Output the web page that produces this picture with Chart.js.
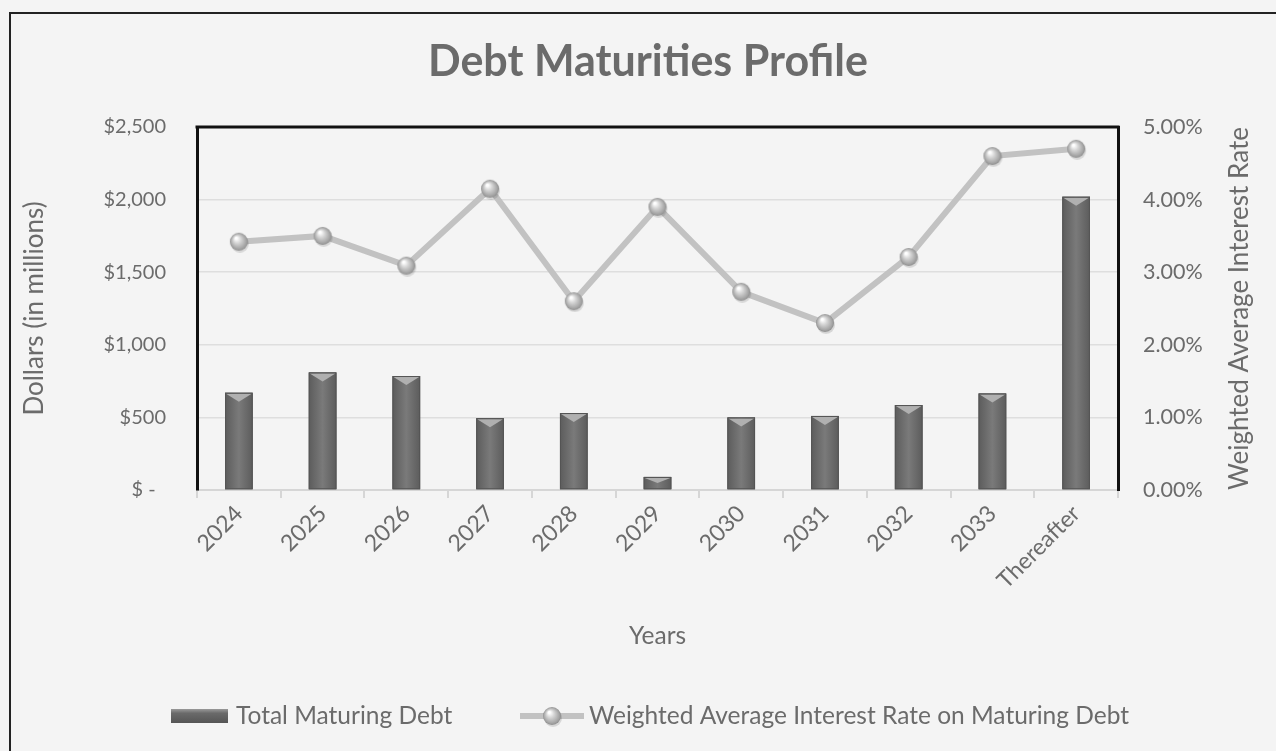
<!DOCTYPE html>
<html>
<head>
<meta charset="utf-8">
<script src="https://cdn.jsdelivr.net/npm/chart.js@4"></script>
<style>
  html, body { margin: 0; padding: 0; background: #f4f4f4; }
  #wrap { width: 1276px; height: 751px; position: relative; }
</style>
</head>
<body>
<div id="wrap"><canvas id="debtChart"></canvas></div>
<script>
// ── data ──
const years = ['2024', '2025', '2026', '2027', '2028', '2029', '2030', '2031', '2032', '2033', 'Thereafter'];
const maturingDebt = [670, 810, 785, 495, 530, 90, 500, 510, 585, 665, 2020];      // $ millions
const avgRate = [3.42, 3.50, 3.09, 4.15, 2.60, 3.90, 2.73, 2.30, 3.21, 4.60, 4.70]; // %

const TEXT = '#6b6b6b';
const FONT = 'Lato, "Open Sans", sans-serif';

// little shaded sphere used as the line marker
function makeSphere(r) {
    const c = document.createElement('canvas');
    c.width = c.height = r * 2 + 4;
    const g = c.getContext('2d');
    const cx = r + 2, cy = r + 2;
    g.fillStyle = 'rgba(0,0,0,0.12)';
    g.beginPath(); g.arc(cx + 1, cy + 2, r, 0, Math.PI * 2); g.fill();
    const grad = g.createRadialGradient(cx - r * 0.3, cy - r * 0.4, 1, cx, cy, r);
    grad.addColorStop(0, '#ffffff');
    grad.addColorStop(0.35, '#d6d6d6');
    grad.addColorStop(0.85, '#a3a3a3');
    grad.addColorStop(1, '#8c8c8c');
    g.fillStyle = grad;
    g.beginPath(); g.arc(cx, cy, r, 0, Math.PI * 2); g.fill();
    return c;
}
const sphere = makeSphere(9);

function barFill(ctx, x0, w) {
    const grad = ctx.createLinearGradient(x0, 0, x0 + w, 0);
    grad.addColorStop(0, '#5c5c5c');
    grad.addColorStop(0.5, '#7a7a7a');
    grad.addColorStop(1, '#5c5c5c');
    return grad;
}

// background, frame, title, right axis title, legend, bar bevels
const decorPlugin = {
    id: 'decor',
    beforeDraw(chart) {
        const { ctx, width, height } = chart;
        ctx.save();
        ctx.fillStyle = '#f4f4f4';
        ctx.fillRect(0, 0, width, height);
        ctx.strokeStyle = '#222';
        ctx.lineWidth = 2;
        ctx.beginPath();
        ctx.moveTo(10, height + 5); ctx.lineTo(10, 13); ctx.lineTo(width + 5, 13);
        ctx.stroke();
        ctx.restore();
    },
    afterDatasetDraw(chart, args) {
        if (args.index !== 0) return;
        const { ctx } = chart;
        ctx.save();
        args.meta.data.forEach(el => {
            const { x, y, base, width } = el.getProps(['x', 'y', 'base', 'width'], true);
            const x0 = x - width / 2;
            ctx.fillStyle = barFill(ctx, x0, width);
            ctx.fillRect(x0, y, width, base - y);
            const h = Math.min(9, (base - y) / 2);
            ctx.fillStyle = '#b0b0b0';
            ctx.beginPath();
            ctx.moveTo(x0 + 1, y + 1); ctx.lineTo(x0 + width - 1, y + 1); ctx.lineTo(x, y + h);
            ctx.closePath(); ctx.fill();
            ctx.strokeStyle = '#555';
            ctx.lineWidth = 1;
            ctx.strokeRect(x0 + 0.5, y + 0.5, width - 1, base - y - 1);
        });
        ctx.restore();
    },
    afterDraw(chart) {
        const { ctx, chartArea: a } = chart;
        ctx.save();
        // top edge of the plot frame
        ctx.strokeStyle = '#111';
        ctx.lineWidth = 3;
        ctx.beginPath();
        ctx.moveTo(a.left - 1.5, a.top); ctx.lineTo(a.right + 1.5, a.top);
        ctx.stroke();

        // chart title
        ctx.fillStyle = TEXT;
        ctx.textAlign = 'center';
        ctx.textBaseline = 'middle';
        ctx.font = 'bold 43px ' + FONT;
        ctx.fillText('Debt Maturities Profile', 648, 62);

        // right axis title, reading bottom-up
        ctx.save();
        ctx.translate(1240, (a.top + a.bottom) / 2);
        ctx.rotate(-Math.PI / 2);
        ctx.font = '26px ' + FONT;
        ctx.fillText('Weighted Average Interest Rate', 0, 0);
        ctx.restore();

        // legend
        const ly = 716;
        const ds = chart.data.datasets;
        ctx.font = '24.5px ' + FONT;
        ctx.textAlign = 'left';
        const lg = ctx.createLinearGradient(0, ly - 7, 0, ly + 7);
        lg.addColorStop(0, '#9a9a9a');
        lg.addColorStop(0.3, '#6a6a6a');
        lg.addColorStop(1, '#555');
        ctx.fillStyle = lg;
        ctx.fillRect(171, ly - 7, 57, 14);
        ctx.fillStyle = TEXT;
        ctx.fillText(ds[0].label, 236, ly);

        ctx.strokeStyle = '#c2c2c2';
        ctx.lineWidth = 6;
        ctx.beginPath();
        ctx.moveTo(520, ly); ctx.lineTo(584, ly);
        ctx.stroke();
        ctx.drawImage(sphere, 552 - sphere.width / 2, ly - sphere.height / 2);
        ctx.fillStyle = TEXT;
        ctx.fillText(ds[1].label, 589, ly);
        ctx.restore();
    }
};

new Chart(document.getElementById('debtChart'), {
    type: 'bar',
    data: {
        labels: years,
        datasets: [{
            type: 'bar',
            label: 'Total Maturing Debt',
            data: maturingDebt,
            yAxisID: 'y',
            backgroundColor: '#6d6d6d',
            categoryPercentage: 1,
            barPercentage: 0.33,
            order: 1,
        }, {
            type: 'line',
            label: 'Weighted Average Interest Rate on Maturing Debt',
            data: avgRate,
            yAxisID: 'y1',
            borderColor: '#c2c2c2',
            borderWidth: 6,
            pointStyle: sphere,
            tension: 0,
            order: 0,
        }],
    },
    options: {
        responsive: true,
        maintainAspectRatio: false,
        animation: false,
        layout: { padding: { top: 127, left: 10, right: 0, bottom: 0 } },
        plugins: {
            legend: { display: false },
            title: { display: false },
            tooltip: { enabled: false },
        },
        scales: {
            x: {
                offset: true,
                grid: {
                    offset: true,
                    drawOnChartArea: false,
                    drawTicks: true,
                    tickLength: 8,
                    color: '#d6d6d6',
                    lineWidth: 2,
                },
                border: { color: '#d6d6d6', width: 2 },
                ticks: {
                    color: TEXT,
                    font: { family: FONT, size: 23 },
                    minRotation: 45,
                    maxRotation: 45,
                    padding: 2,
                },
                title: {
                    display: true,
                    text: 'Years',
                    color: TEXT,
                    font: { family: FONT, size: 24.5 },
                    padding: { top: 0, bottom: 100 },
                },
                afterFit: (s) => { s.height = 261; },
            },
            y: {
                position: 'left',
                min: 0,
                max: 2500,
                grid: { color: '#dedede', lineWidth: 1.5, drawTicks: false },
                border: { color: '#111', width: 3 },
                ticks: {
                    stepSize: 500,
                    color: TEXT,
                    font: { family: FONT, size: 20 },
                    padding: 31,
                    callback: (v) => v === 0 ? '$ -  ' : '$' + v.toLocaleString('en-US'),
                },
                title: {
                    display: true,
                    text: 'Dollars (in millions)',
                    color: TEXT,
                    font: { family: FONT, size: 26 },
                    padding: { top: 9, bottom: 0 },
                },
                afterFit: (s) => { s.width = 187; },
            },
            y1: {
                position: 'right',
                min: 0,
                max: 5,
                grid: { display: false, drawTicks: false },
                border: { color: '#111', width: 3 },
                ticks: {
                    stepSize: 1,
                    color: TEXT,
                    font: { family: FONT, size: 21.5 },
                    padding: 25,
                    callback: (v) => v.toFixed(2) + '%',
                },
                afterFit: (s) => { s.width = 158; },
            },
        },
    },
    plugins: [decorPlugin],
});
</script>
</body>
</html>
